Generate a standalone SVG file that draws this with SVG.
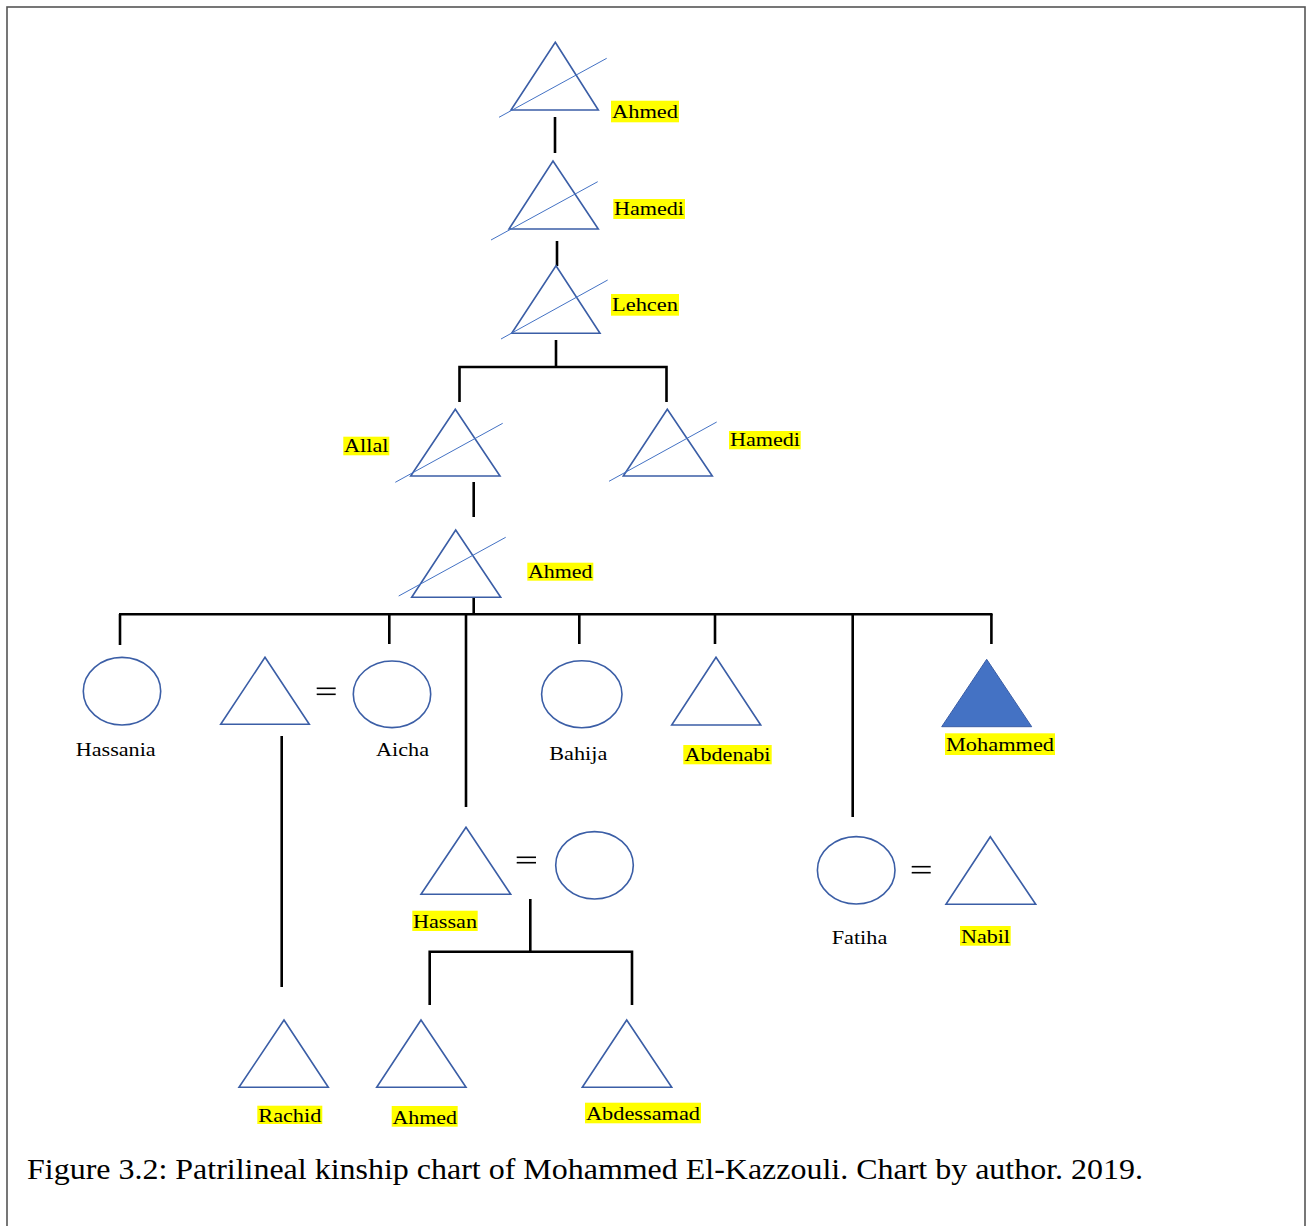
<svg xmlns="http://www.w3.org/2000/svg" width="1308" height="1226" viewBox="0 0 1308 1226">
<style>
.tri{fill:none;stroke:#3b5ea6;stroke-width:1.6;stroke-linejoin:miter}
.fem{fill:none;stroke:#3b5ea6;stroke-width:1.6}
.x{stroke:#4472c4;stroke-width:1}
.ln{stroke:#000;stroke-width:2.6;fill:none}
.eq{stroke:#000;stroke-width:1.6}
.hl{fill:#ffff00}
.t{font-family:"Liberation Serif","Times New Roman",serif;font-size:19px;fill:#000}
.cap{font-family:"Liberation Serif","Times New Roman",serif;font-size:29px;fill:#000}
</style>
<rect width="1308" height="1226" fill="#fff"/>
<rect x="7" y="7" width="1298" height="1240" fill="none" stroke="#555" stroke-width="1.6"/>

<g id="connectors">
<line class="ln" x1="555" y1="117" x2="555" y2="153"/>
<line class="ln" x1="557" y1="241" x2="557" y2="266"/>
<line class="ln" x1="556" y1="340" x2="556" y2="367"/>
<polyline class="ln" points="459.5,402 459.5,367 666.5,367 666.5,402"/>
<line class="ln" x1="473.7" y1="482" x2="473.7" y2="517"/>
<line class="ln" x1="473.7" y1="597" x2="473.7" y2="614"/>
<line class="ln" x1="119" y1="614.3" x2="992.5" y2="614.3"/>
<line class="ln" x1="120" y1="614" x2="120" y2="645"/>
<line class="ln" x1="389.3" y1="614" x2="389.3" y2="644"/>
<line class="ln" x1="466" y1="614" x2="466" y2="807"/>
<line class="ln" x1="579.3" y1="614" x2="579.3" y2="644"/>
<line class="ln" x1="715" y1="614" x2="715" y2="644"/>
<line class="ln" x1="852.7" y1="614" x2="852.7" y2="817"/>
<line class="ln" x1="991.4" y1="614" x2="991.4" y2="644"/>
<line class="ln" x1="281.7" y1="736" x2="281.7" y2="987"/>
<line class="ln" x1="530.3" y1="899" x2="530.3" y2="951.7"/>
<polyline class="ln" points="429.7,1005 429.7,951.7 632,951.7 632,1005"/>
<line class="eq" x1="316.7" y1="688.3" x2="335.7" y2="688.3"/>
<line class="eq" x1="316.7" y1="694.3" x2="335.7" y2="694.3"/>
<line class="eq" x1="516.7" y1="857.3" x2="536" y2="857.3"/>
<line class="eq" x1="516.7" y1="862.7" x2="536" y2="862.7"/>
<line class="eq" x1="911.7" y1="866.7" x2="930.7" y2="866.7"/>
<line class="eq" x1="911.7" y1="872.7" x2="930.7" y2="872.7"/>
</g>

<g id="n-ahmed-1">
<polygon class="tri" points="555.3,42.3 598.3,110 511,110"/>
<line class="x" x1="499" y1="117.3" x2="606.7" y2="58.3"/>
<rect class="hl" x="611" y="100.7" width="68" height="21.6"/>
<text class="t" x="612" y="118" textLength="66" lengthAdjust="spacingAndGlyphs">Ahmed</text>
</g>

<g id="n-hamedi-1">
<polygon class="tri" points="553,161 598.3,229 509,229"/>
<line class="x" x1="491" y1="240" x2="597.7" y2="181.7"/>
<rect class="hl" x="613.3" y="199" width="71.7" height="20"/>
<text class="t" x="614" y="215" textLength="70" lengthAdjust="spacingAndGlyphs">Hamedi</text>
</g>

<g id="n-lehcen">
<polygon class="tri" points="556,265.7 600,333.3 511.7,333.3"/>
<line class="x" x1="501" y1="339" x2="607.7" y2="280"/>
<rect class="hl" x="611" y="294" width="68" height="21.7"/>
<text class="t" x="612" y="311" textLength="66" lengthAdjust="spacingAndGlyphs">Lehcen</text>
</g>

<g id="n-allal">
<polygon class="tri" points="455.3,409.3 500,476 410.7,476"/>
<line class="x" x1="395.3" y1="482.3" x2="502.7" y2="423.3"/>
<rect class="hl" x="343.3" y="436.7" width="46" height="18.6"/>
<text class="t" x="344" y="452" textLength="44.5" lengthAdjust="spacingAndGlyphs">Allal</text>
</g>

<g id="n-hamedi-2">
<polygon class="tri" points="667.3,409.3 712.3,476 623.3,476"/>
<line class="x" x1="609" y1="481.3" x2="716.7" y2="422"/>
<rect class="hl" x="729" y="431" width="71.7" height="18.3"/>
<text class="t" x="730" y="446" textLength="70" lengthAdjust="spacingAndGlyphs">Hamedi</text>
</g>

<g id="n-ahmed-2">
<polygon class="tri" points="455.7,530 500.7,597.3 411.7,597.3"/>
<line class="x" x1="398.7" y1="596" x2="505.7" y2="537.3"/>
<rect class="hl" x="527.3" y="562.7" width="66" height="18"/>
<text class="t" x="528" y="578" textLength="64.5" lengthAdjust="spacingAndGlyphs">Ahmed</text>
</g>

<g id="n-hassania">
<ellipse class="fem" cx="122" cy="691.2" rx="38.7" ry="33.8"/>
<text class="t" x="75.7" y="756" textLength="80" lengthAdjust="spacingAndGlyphs">Hassania</text>
</g>

<g id="n-aicha-husband">
<polygon class="tri" points="265,657.3 309.3,724.3 220.7,724.3"/>
</g>

<g id="n-aicha">
<ellipse class="fem" cx="392" cy="694.3" rx="38.7" ry="33.3"/>
<text class="t" x="376" y="755.5" textLength="53" lengthAdjust="spacingAndGlyphs">Aicha</text>
</g>

<g id="n-bahija">
<ellipse class="fem" cx="581.8" cy="694.2" rx="40.2" ry="33.5"/>
<text class="t" x="549.3" y="760" textLength="58" lengthAdjust="spacingAndGlyphs">Bahija</text>
</g>

<g id="n-abdenabi">
<polygon class="tri" points="716,657.3 760.7,725 671.7,725"/>
<rect class="hl" x="683.3" y="745" width="88.4" height="19.3"/>
<text class="t" x="684.5" y="761" textLength="86" lengthAdjust="spacingAndGlyphs">Abdenabi</text>
</g>

<g id="n-mohammed">
<polygon points="986.7,659.3 1031.7,726.7 941.7,726.7" fill="#4472c4" stroke="#3b5ea6" stroke-width="1"/>
<rect class="hl" x="945" y="733.3" width="110" height="21.7"/>
<text class="t" x="946" y="750.5" textLength="108" lengthAdjust="spacingAndGlyphs">Mohammed</text>
</g>

<g id="n-hassan">
<polygon class="tri" points="466,827.3 510.7,894.3 421,894.3"/>
<rect class="hl" x="412.3" y="910.7" width="65.4" height="20.3"/>
<text class="t" x="413" y="927.5" textLength="64" lengthAdjust="spacingAndGlyphs">Hassan</text>
</g>

<g id="n-hassan-wife">
<ellipse class="fem" cx="594.5" cy="865.3" rx="38.8" ry="33.7"/>
</g>

<g id="n-fatiha">
<ellipse class="fem" cx="856.2" cy="870.3" rx="38.8" ry="33.7"/>
<text class="t" x="831.7" y="944" textLength="55.6" lengthAdjust="spacingAndGlyphs">Fatiha</text>
</g>

<g id="n-nabil">
<polygon class="tri" points="990.3,836.7 1035.7,904.3 946,904.3"/>
<rect class="hl" x="960" y="926" width="50.7" height="19.7"/>
<text class="t" x="961" y="942.5" textLength="49" lengthAdjust="spacingAndGlyphs">Nabil</text>
</g>

<g id="n-rachid">
<polygon class="tri" points="284,1020 328.3,1087.3 239,1087.3"/>
<rect class="hl" x="257.3" y="1105.7" width="65" height="18.3"/>
<text class="t" x="258.3" y="1121.5" textLength="63" lengthAdjust="spacingAndGlyphs">Rachid</text>
</g>

<g id="n-ahmed-3">
<polygon class="tri" points="421,1020 466,1087.3 376.7,1087.3"/>
<rect class="hl" x="391.7" y="1106" width="66" height="20.7"/>
<text class="t" x="392.5" y="1123.5" textLength="64.5" lengthAdjust="spacingAndGlyphs">Ahmed</text>
</g>

<g id="n-abdessamad">
<polygon class="tri" points="626.7,1020 671.7,1087.3 582.3,1087.3"/>
<rect class="hl" x="585" y="1102.7" width="116" height="20.6"/>
<text class="t" x="586" y="1119.5" textLength="114" lengthAdjust="spacingAndGlyphs">Abdessamad</text>
</g>

<text class="cap" x="27" y="1179" textLength="1116" lengthAdjust="spacingAndGlyphs">Figure 3.2: Patrilineal kinship chart of Mohammed El-Kazzouli. Chart by author. 2019.</text>
</svg>
